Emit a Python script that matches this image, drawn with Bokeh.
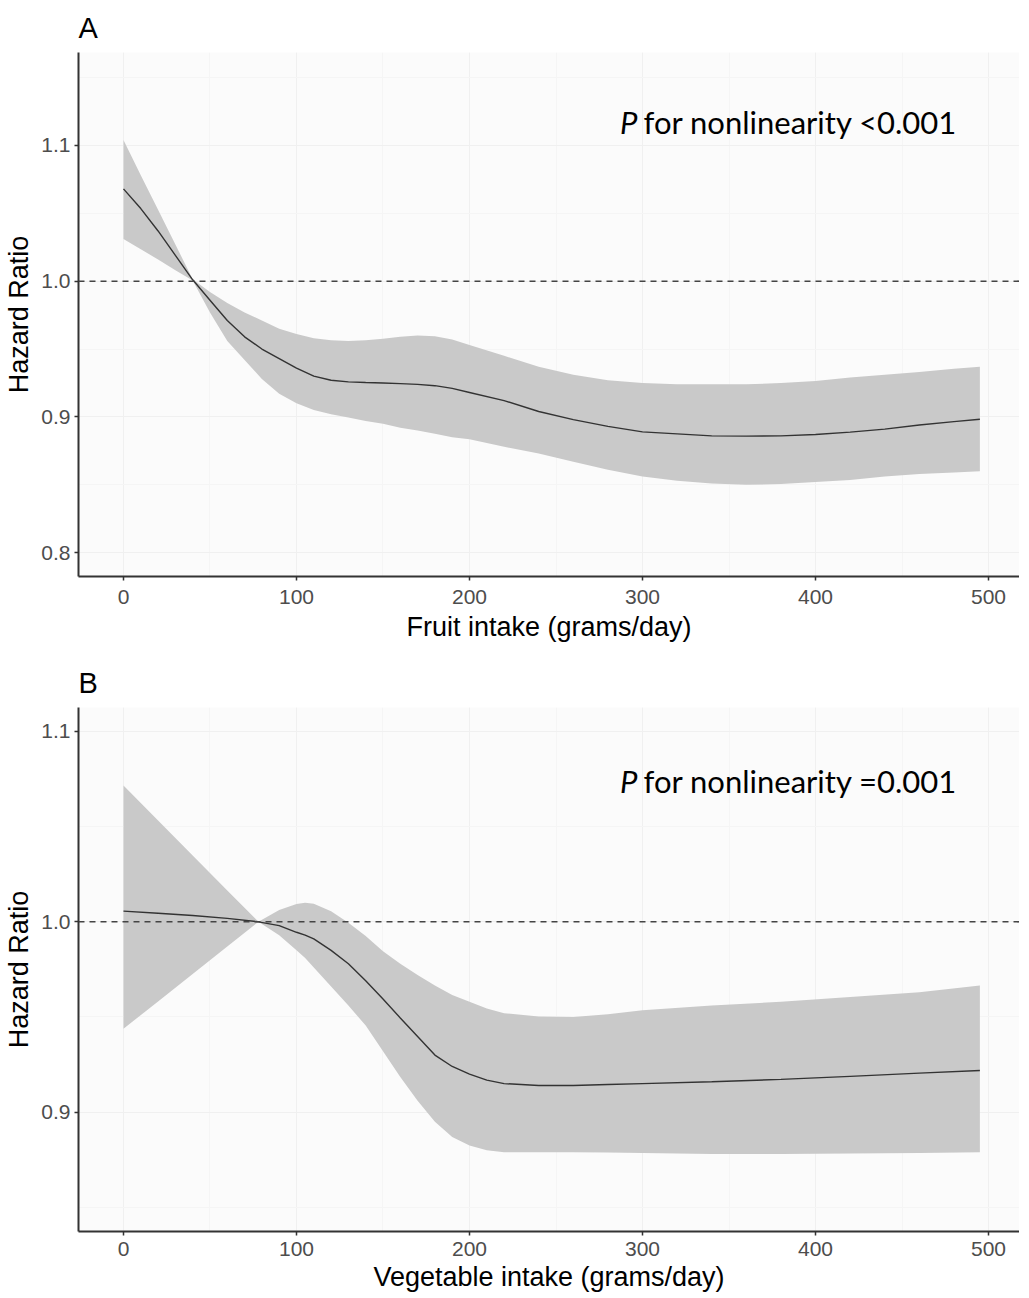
from bokeh.plotting import figure
from bokeh.models import Span, Label, ColumnDataSource, FixedTicker, PrintfTickFormatter
from bokeh.layouts import column
from bokeh.embed import file_html
from bokeh.resources import INLINE

# ---- Panel A: fruit intake ----
fruit_x = [0, 10, 20, 30, 40, 50, 60, 70, 80, 90, 100, 110, 120, 130, 140, 150, 160, 170, 180, 190,
           200, 220, 240, 260, 280, 300, 320, 340, 360, 380, 400, 420, 440, 460, 480, 495]
fruit_hr = [1.068, 1.0535, 1.037, 1.019, 1.001, 0.986, 0.971, 0.959, 0.950, 0.943, 0.936, 0.930, 0.927,
            0.9258, 0.9253, 0.925, 0.9245, 0.924, 0.923, 0.921, 0.918, 0.912, 0.904, 0.898, 0.893,
            0.889, 0.8875, 0.886, 0.8858, 0.886, 0.887, 0.8888, 0.891, 0.894, 0.8965, 0.8983]
fruit_hi = [1.104, 1.078, 1.0526, 1.027, 1.0015, 0.992, 0.984, 0.977, 0.971, 0.965, 0.961, 0.958, 0.9565,
            0.956, 0.9565, 0.9575, 0.959, 0.960, 0.9595, 0.957, 0.953, 0.945, 0.937, 0.931, 0.927,
            0.925, 0.924, 0.924, 0.924, 0.925, 0.9265, 0.929, 0.931, 0.933, 0.9355, 0.937]
fruit_lo = [1.031, 1.0235, 1.016, 1.008, 1.0005, 0.977, 0.956, 0.942, 0.928, 0.917, 0.910, 0.905, 0.902,
            0.8995, 0.897, 0.895, 0.892, 0.890, 0.8875, 0.885, 0.8835, 0.878, 0.873, 0.867, 0.861,
            0.856, 0.853, 0.851, 0.850, 0.8505, 0.852, 0.8535, 0.856, 0.858, 0.859, 0.860]

# ---- Panel B: vegetable intake ----
veg_x = [0, 20, 40, 60, 78, 90, 100, 105, 110, 120, 130, 140, 150, 160, 170, 180, 190, 200, 210, 220,
         240, 260, 280, 300, 340, 380, 420, 460, 495]
veg_hr = [1.0056, 1.0045, 1.0033, 1.0018, 1.0, 0.998, 0.9945, 0.993, 0.991, 0.985, 0.978, 0.969, 0.9595,
          0.9495, 0.9398, 0.930, 0.924, 0.920, 0.9168, 0.915, 0.914, 0.914, 0.9145, 0.915, 0.916,
          0.9172, 0.9188, 0.9205, 0.9219]
veg_hi = [1.0716, 1.0532, 1.0349, 1.0165, 1.0, 1.0062, 1.0093, 1.010, 1.0095, 1.0055, 0.9995, 0.9925,
          0.9845, 0.978, 0.972, 0.9665, 0.9615, 0.958, 0.9545, 0.952, 0.9502, 0.950, 0.9515, 0.9535,
          0.956, 0.958, 0.9605, 0.963, 0.9665]
veg_lo = [0.9438, 0.9582, 0.9726, 0.987, 1.0, 0.993, 0.985, 0.981, 0.976, 0.966, 0.956, 0.9455, 0.932,
          0.9185, 0.906, 0.895, 0.887, 0.8825, 0.880, 0.879, 0.879, 0.879, 0.8788, 0.8785, 0.878,
          0.878, 0.8783, 0.8785, 0.879]

x_ticks = [0, 100, 200, 300, 400, 500]
yticks_a = [0.8, 0.9, 1.0, 1.1]
yticks_b = [0.9, 1.0, 1.1]

AXIS_FONT = "Liberation Sans"
NOTE_FONT = "Lato"


def make_panel(letter, xs, hr, lo, hi, yticks, y_range, xlabel, note_rest, note_y,
               height, border_top, border_bottom, tick_standoff, label_standoff):
    p = figure(width=1019, height=height, x_range=(-26, 517.9), y_range=y_range,
               output_backend="svg", toolbar_location=None, title=letter,
               min_border_left=78, min_border_right=0, min_border_top=border_top,
               min_border_bottom=border_bottom)
    p.background_fill_color = "#FBFBFB"
    p.border_fill_color = "white"
    p.outline_line_color = None

    p.title.text_font = AXIS_FONT
    p.title.text_font_size = "29px"
    p.title.text_font_style = "normal"
    p.title.text_color = "black"
    p.title.align = "left"
    p.title.standoff = 17

    src = ColumnDataSource(dict(x=xs, hr=hr, lo=lo, hi=hi))
    p.varea(x="x", y1="lo", y2="hi", source=src, fill_color="#C9C9C9", fill_alpha=1.0)
    p.line(x="x", y="hr", source=src, line_color="#333333", line_width=1.4)

    p.add_layout(Span(location=1.0, dimension="width", line_color="#444444",
                      line_width=1.6, line_dash="6 5"))

    p.xaxis.ticker = FixedTicker(ticks=x_ticks, minor_ticks=[-50 + 50 * i for i in range(13)])
    p.yaxis.ticker = FixedTicker(ticks=yticks,
                                 minor_ticks=[round(0.75 + 0.05 * i, 2) for i in range(10)])
    p.yaxis.formatter = PrintfTickFormatter(format="%.1f")
    for ax in (p.xaxis[0], p.yaxis[0]):
        ax.axis_line_color = "#333333"
        ax.axis_line_width = 2
        ax.major_tick_line_color = "#333333"
        ax.major_tick_line_width = 1.5
        ax.major_tick_out = 4
        ax.major_tick_in = 0
        ax.minor_tick_line_color = None
        ax.major_label_text_font = AXIS_FONT
        ax.major_label_text_font_size = "21px"
        ax.major_label_text_color = "#4D4D4D"
        ax.axis_label_text_font = AXIS_FONT
        ax.axis_label_text_font_size = "27px"
        ax.axis_label_text_font_style = "normal"
        ax.axis_label_text_color = "black"
    p.xaxis.axis_label = xlabel
    p.yaxis.axis_label = "Hazard Ratio"
    p.xaxis.major_label_standoff = tick_standoff
    p.xaxis.axis_label_standoff = label_standoff
    p.yaxis.major_label_standoff = 4
    p.yaxis.axis_label_standoff = 4

    p.xgrid.grid_line_color = "#F0F0F0"
    p.ygrid.grid_line_color = "#F0F0F0"
    p.xgrid.minor_grid_line_color = "#F5F5F5"
    p.ygrid.minor_grid_line_color = "#F5F5F5"

    p.add_layout(Label(x=287.0, y=note_y, text="P", text_font=NOTE_FONT,
                       text_font_size="31px", text_font_style="italic",
                       text_color="black", text_baseline="alphabetic"))
    p.add_layout(Label(x=300.6, y=note_y, text=note_rest, text_font=NOTE_FONT,
                       text_font_size="31px", text_color="black",
                       text_baseline="alphabetic"))
    return p


pA = make_panel("A", fruit_x, fruit_hr, fruit_lo, fruit_hi, yticks_a, (0.7824, 1.1685),
                "Fruit intake (grams/day)", "for nonlinearity <0.001", 1.1174,
                height=653, border_top=52, border_bottom=77, tick_standoff=9, label_standoff=5)
pB = make_panel("B", veg_x, veg_hr, veg_lo, veg_hi, yticks_b, (0.8373, 1.1126),
                "Vegetable intake (grams/day)", "for nonlinearity =0.001", 1.0739,
                height=643, border_top=54, border_bottom=65, tick_standoff=6, label_standoff=3)

layout = column(pA, pB, spacing=0)
open("out.html", "w").write(file_html(layout, INLINE))
